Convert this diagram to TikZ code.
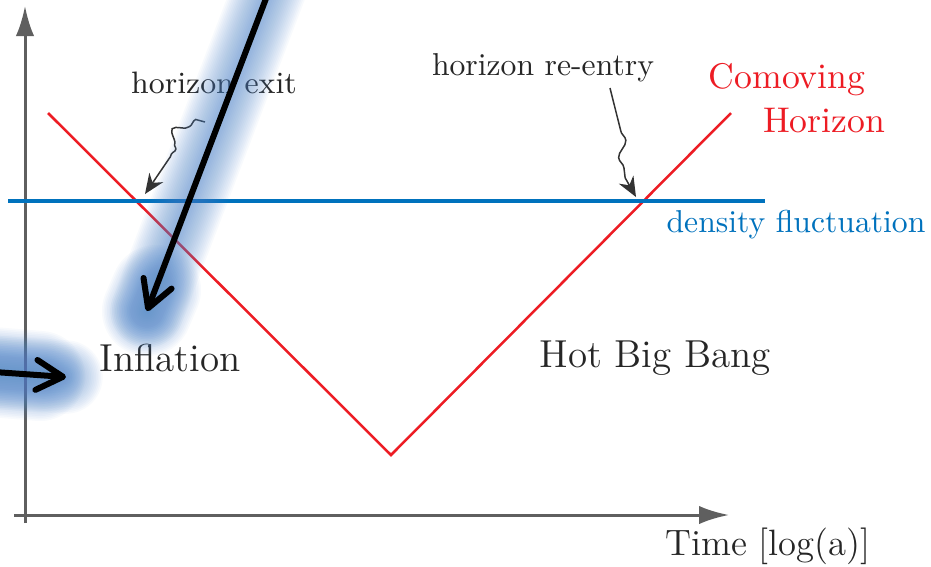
\documentclass[tikz,border=0pt]{standalone}
\usepackage{xcolor}
\definecolor{hzred}{RGB}{237,28,36}
\definecolor{flblue}{RGB}{0,114,189}
\definecolor{glowblue}{RGB}{80,135,205}
\definecolor{axgray}{RGB}{95,95,95}
\usetikzlibrary{arrows.meta,decorations.pathmorphing}
\tikzset{
  axisline/.style={draw=axgray, line width=0.9pt, -{Latex[length=9pt,width=5.5pt]}},
  squig/.style 2 args={draw=black!80, line width=0.45pt, -{Stealth[length=6pt,width=5pt]},
    decorate, decoration={snake, amplitude=1.6pt, segment length=8pt, pre length=#1, post length=#2}},
  lbl/.style={inner sep=0pt, text=black!85},
  glow/.style={glowblue, opacity=0.038, line width=#1, line cap=round},
  bigarrow/.style={line width=1.8pt, line cap=round, line join=round,
    -{Straight Barb[length=8pt 0,width=9pt 0,round]}},
}

\begin{document}
\begin{tikzpicture}[x=0.3pt,y=-0.3pt]
  \path[use as bounding box, fill=white] (0,0) rectangle (931,566);
  \clip (0,0) rectangle (931,566);
  % Axes
  \draw[axisline] (25,523) -- (25,6);
  \draw[axisline] (14,515) -- (729,515);
  \node[lbl, font=\fontsize{11}{13}\selectfont] (timelbl) at (768,546) {Time [log(a)]};
  % Comoving horizon and the fluctuation scale
  \coordinate (vleft) at (48,113);
  \coordinate (vbot) at (391,455);
  \coordinate (vright) at (731,113);
  \draw[hzred, line width=0.75pt] (vleft) -- (vbot) -- (vright);
  \draw[flblue, line width=1.2pt] (8,201) -- (765,201);
  \node[inner sep=0pt, text=hzred, font=\fontsize{10.7}{13}\selectfont] (comovlbl) at (787,80) {Comoving};
  \node[inner sep=0pt, text=hzred, font=\fontsize{10.7}{13}\selectfont] (horizlbl) at (824,121) {Horizon};
  \node[inner sep=0pt, text=flblue, font=\fontsize{9.5}{12}\selectfont] (denslbl) at (796,225) {density fluctuation};
  % Eras
  \node[lbl, font=\fontsize{11.7}{14}\selectfont] (inflbl) at (170,358) {Inflation};
  \node[lbl, font=\fontsize{11.7}{14}\selectfont] (hbblbl) at (655,358) {Hot Big Bang};
  % Exit and re-entry
  \node[lbl, font=\fontsize{9.3}{11}\selectfont] (exitlbl) at (214,83) {horizon exit};
  \node[lbl, font=\fontsize{9.5}{11}\selectfont] (reentlbl) at (543,68) {horizon re-entry};
  \coordinate (exitfrom) at (205,122);
  \coordinate (exitto) at (145,194);
  \coordinate (reentfrom) at (610,88);
  \coordinate (reentto) at (636,197);
  \draw[squig={3pt}{17pt}] (exitfrom) to[out=140, in=285] (exitto);
  \draw[squig={17pt}{10pt}, decoration={segment length=10pt, amplitude=1.3pt}] (reentfrom) to[out=75, in=250] (reentto);
  % Highlight arrows
  \coordinate (hlafrom) at (270,-12);
  \coordinate (hlato) at (147,311);
  \coordinate (hlaknee) at (156,290);
  \coordinate (hlbfrom) at (-20,371);
  \coordinate (hlbto) at (66,377);
  \coordinate (hlbknee) at (40,376);
  \foreach \w in {2,3,...,22} {
    \draw[glow=\w pt] (hlafrom) -- (hlato);
    \draw[glow=\w pt] (hlbfrom) -- (hlbto);
  }
  \foreach \w in {10,11,...,27} {
    \draw[glow=\w pt] (hlaknee) -- (hlato);
    \draw[glow=\w pt] (hlbfrom) -- (hlbknee);
  }
  \draw[bigarrow] (hlafrom) -- (hlato);
  \draw[bigarrow] (hlbfrom) -- (hlbto);
\end{tikzpicture}
\end{document}
